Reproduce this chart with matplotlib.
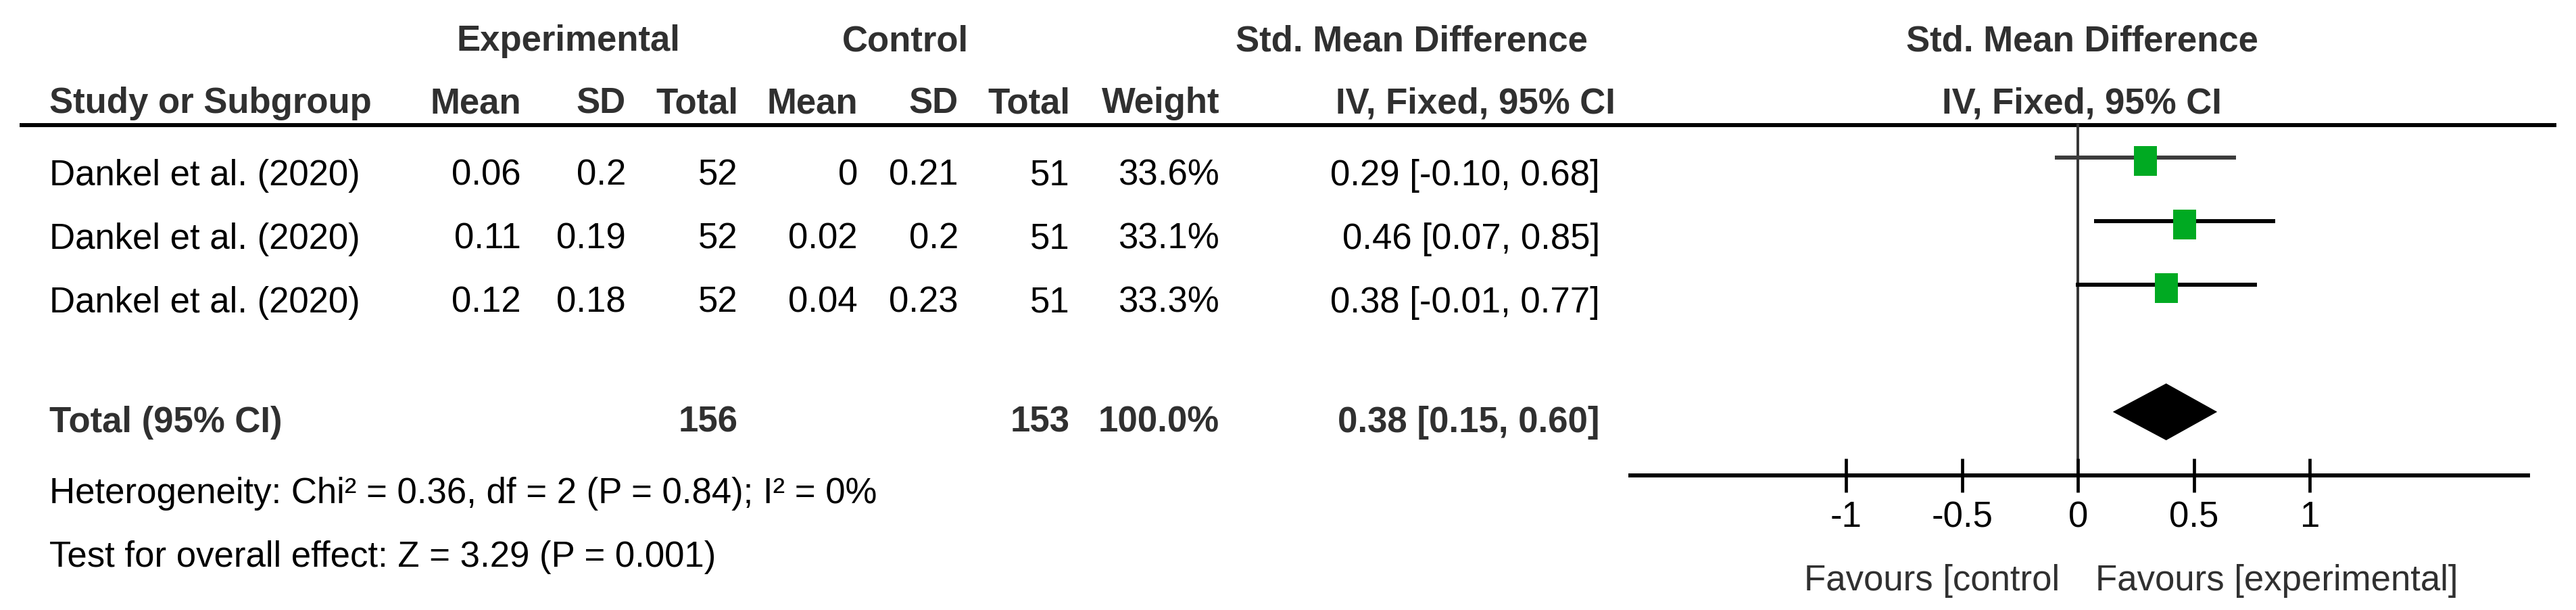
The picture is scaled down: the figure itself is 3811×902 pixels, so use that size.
import matplotlib
matplotlib.use("Agg")
import matplotlib.pyplot as plt
from matplotlib import font_manager

#---------------- dados da meta-análise ----------------#
studies = ["Dankel et al. (2020)", "Dankel et al. (2020)", "Dankel et al. (2020)"]
exp_mean = [0.06, 0.11, 0.12]
exp_sd = [0.2, 0.19, 0.18]
exp_n = [52, 52, 52]
ctl_mean = [0, 0.02, 0.04]
ctl_sd = [0.21, 0.2, 0.23]
ctl_n = [51, 51, 51]
weight = [33.6, 33.1, 33.3]
smd = [0.29, 0.46, 0.38]
ci_lo = [-0.10, 0.07, -0.01]
ci_hi = [0.68, 0.85, 0.77]

total_exp_n = 156
total_ctl_n = 153
total_weight = 100.0
total_smd = 0.38
total_lo = 0.15
total_hi = 0.60

chi2 = 0.36
het_df = 2
het_p = 0.84
i2 = 0
z_value = 3.29
z_p = 0.001

tick_values = [-1, -0.5, 0, 0.5, 1]
tick_labels = ["-1", "-0.5", "0", "0.5", "1"]

#---------------- fonte ----------------#
installed = {f.name for f in font_manager.fontManager.ttflist}
if "Liberation Sans Narrow" in installed:
    FAMILY = ["Liberation Sans Narrow", "DejaVu Sans"]
    FS = 46.5
else:
    FAMILY = ["Liberation Sans", "DejaVu Sans"]
    FS = 38
plt.rcParams["font.family"] = FAMILY
plt.rcParams["axes.unicode_minus"] = False

HEAD = "#303030"
W, H = 3812, 903

fig = plt.figure(figsize=(W / 100, H / 100), dpi=100)
fig.patch.set_facecolor("white")

# eixo da tabela (coordenadas em pixels)
ax = fig.add_axes([0, 0, 1, 1])
ax.set_xlim(0, W)
ax.set_ylim(H, 0)
ax.axis("off")

def txt(x, y, s, ha="right", bold=False, color="black"):
    ax.text(x, y, s, ha=ha, va="baseline", fontsize=FS,
            fontweight="bold" if bold else "normal", color=color)

# cabeçalho
txt(841, 75, "Experimental", ha="center", bold=True, color=HEAD)
txt(1339, 75, "Control", ha="center", bold=True, color=HEAD)
txt(2088, 75, "Std. Mean Difference", ha="center", bold=True, color=HEAD)
txt(3080, 75, "Std. Mean Difference", ha="center", bold=True, color=HEAD)

cols = [771, 926, 1092, 1269, 1418, 1583, 1804]
heads = ["Mean", "SD", "Total", "Mean", "SD", "Total", "Weight"]
txt(73, 167, "Study or Subgroup", ha="left", bold=True, color=HEAD)
for cx, h in zip(cols, heads):
    txt(cx, 167, h, bold=True, color=HEAD)
txt(2390, 167, "IV, Fixed, 95% CI", bold=True, color=HEAD)
txt(3080, 167, "IV, Fixed, 95% CI", ha="center", bold=True, color=HEAD)

ax.plot([29, 3782], [186, 186], color="black", lw=4.3, solid_capstyle="butt")

# linhas dos estudos
row_base = [274, 368, 462]
for i, yb in enumerate(row_base):
    vals = [f"{exp_mean[i]:g}", f"{exp_sd[i]:g}", f"{exp_n[i]}",
            f"{ctl_mean[i]:g}", f"{ctl_sd[i]:g}", f"{ctl_n[i]}",
            f"{weight[i]:.1f}%"]
    txt(73, yb, studies[i], ha="left")
    for cx, v in zip(cols, vals):
        txt(cx, yb, v)
    txt(2367, yb, f"{smd[i]:.2f} [{ci_lo[i]:.2f}, {ci_hi[i]:.2f}]")

# total
yt = 639
txt(73, yt, "Total (95% CI)", ha="left", bold=True, color=HEAD)
txt(1092, yt, f"{total_exp_n}", bold=True, color=HEAD)
txt(1583, yt, f"{total_ctl_n}", bold=True, color=HEAD)
txt(1804, yt, f"{total_weight:.1f}%", bold=True, color=HEAD)
txt(2367, yt, f"{total_smd:.2f} [{total_lo:.2f}, {total_hi:.2f}]", bold=True, color=HEAD)

txt(73, 744, f"Heterogeneity: Chi² = {chi2:.2f}, df = {het_df} (P = {het_p:.2f}); I² = {i2}%", ha="left")
txt(73, 838, f"Test for overall effect: Z = {z_value:.2f} (P = {z_p:g})", ha="left")

#---------------- forest plot ----------------#
x0, x1 = 2412, 3740
axf = fig.add_axes([x0 / W, 0, (x1 - x0) / W, 1])
axf.set_xlim(-1.93, 1.94)
axf.set_ylim(H, 0)
axf.patch.set_alpha(0)
for s in ["top", "left", "right"]:
    axf.spines[s].set_visible(False)
axf.spines["bottom"].set_position(("data", 704))
axf.spines["bottom"].set_linewidth(4.3)
axf.set_yticks([])
axf.set_xticks(tick_values)
axf.set_xticklabels(tick_labels)
axf.tick_params(axis="x", direction="inout", length=36, width=3.4, pad=8,
                labelsize=FS, colors="black")

axf.plot([0, 0], [186, 704], color="#333333", lw=2.8, zorder=1)

ci_colors = ["#3c3c3c", "black", "black"]
box = [(-0.375, -0.5), (0.375, -0.5), (0.375, 0.5), (-0.375, 0.5), (-0.375, -0.5)]
for i, yb in enumerate(row_base):
    axf.plot([ci_lo[i], ci_hi[i]], [yb - 40, yb - 40], color=ci_colors[i],
             lw=4.3, solid_capstyle="butt", zorder=2)
    axf.plot([smd[i]], [yb - 35], marker=box, markersize=31.7, color="#00aa22",
             markeredgewidth=0, linestyle="none", zorder=3)

yd = yt - 29
axf.fill([total_lo, total_smd, total_hi, total_smd], [yd, yd - 42, yd, yd + 42],
         color="black", lw=0, zorder=3)

axf.text(-0.08, 873, "Favours [control", ha="right", va="baseline",
         fontsize=FS, color=HEAD)
axf.text(0.075, 873, "Favours [experimental]", ha="left", va="baseline",
         fontsize=FS, color=HEAD)

fig.savefig("out.png", dpi=100, facecolor="white")
